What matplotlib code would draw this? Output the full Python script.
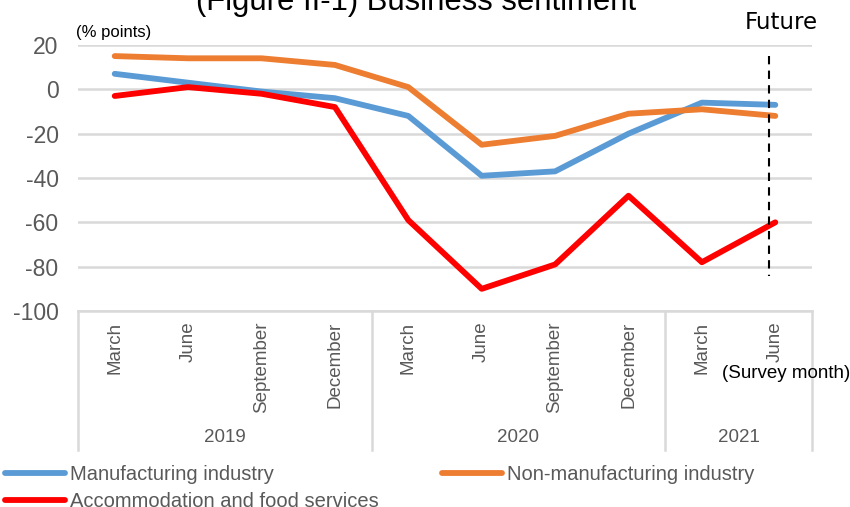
import matplotlib.pyplot as plt
import numpy as np

plt.rcParams['font.family'] = ['Liberation Sans', 'DejaVu Sans']

# DATA
months = ['March', 'June', 'September', 'December',
          'March', 'June', 'September', 'December',
          'March', 'June']
years = ['2019', '2020', '2021']
year_counts = [4, 4, 2]

manufacturing = [7, 3, -1, -4, -12, -39, -37, -20, -6, -7]
non_manufacturing = [15, 14, 14, 11, 1, -25, -21, -11, -9, -12]
accommodation = [-3, 1, -2, -8, -59, -90, -79, -48, -78, -60]

BLUE = '#5B9BD5'
ORANGE = '#ED7D31'
RED = '#FF0000'
GRID = '#D9D9D9'
TXT = '#595959'

W, H = 850, 507
fig = plt.figure(figsize=(W / 100, H / 100), dpi=100)
ax = fig.add_axes([78 / W, 1 - 311 / H, (812 - 78) / W, (311 - 45) / H])

x = np.arange(len(months))
l1, = ax.plot(x, manufacturing, color=BLUE, lw=4.2, solid_capstyle='round',
              label='Manufacturing industry')
l2, = ax.plot(x, non_manufacturing, color=ORANGE, lw=4.2, solid_capstyle='round',
              label='Non-manufacturing industry')
l3, = ax.plot(x, accommodation, color=RED, lw=4.2, solid_capstyle='round',
              label='Accommodation and food services')

# future marker
ax.plot([x[-1] - 0.09] * 2, [15, -84], color='black', lw=1.5, ls=(0, (4, 3)))
ax.text(x[-1] + 0.08, 27, 'Future', fontsize=16.5, ha='center', va='baseline',
        color='black', family='DejaVu Sans')

ax.set_xlim(-0.5, len(months) - 0.5)
ax.set_ylim(-100, 20)
ax.set_yticks(range(-100, 21, 20))
ax.set_yticklabels([str(v) for v in range(-100, 21, 20)], fontsize=16.5, color=TXT)
ax.tick_params(axis='y', length=0, pad=14)
ax.grid(axis='y', color=GRID, lw=1.8)
ax.set_axisbelow(True)
for s in ['top', 'right', 'left']:
    ax.spines[s].set_visible(False)
ax.spines['bottom'].set_color(GRID)
ax.spines['bottom'].set_linewidth(1.8)
ax.set_xticks([])

# category labels
for i, m in enumerate(months):
    ax.annotate(m, (i, 0), xycoords=('data', 'axes fraction'),
                xytext=(0, -7.5), textcoords='offset points',
                rotation=90, ha='center', va='top', fontsize=13.5, color=TXT)

# year groups with separators
edges = np.concatenate([[0], np.cumsum(year_counts)]) - 0.5
sep_depth = (450 - 311) / (311 - 45)
for e in edges:
    ax.plot([e, e], [0, -sep_depth], transform=ax.get_xaxis_transform(),
            color=GRID, lw=1.8, clip_on=False)
for yr, a, b in zip(years, edges[:-1], edges[1:]):
    ax.annotate(yr, ((a + b) / 2, 0), xycoords=('data', 'axes fraction'),
                xytext=(0, -(437 - 311) * 0.72), textcoords='offset points',
                ha='center', va='center', fontsize=13.5, color=TXT)

fig.text(722 / W, 1 - 374 / H, '(Survey month)', fontsize=13.5, color='black',
         ha='left', va='center')
fig.text(76 / W, 1 - 33 / H, '(% points)', fontsize=12, color='black',
         ha='left', va='center')

fig.text(416 / W, 1 - 10 / H, '(Figure II-1) Business sentiment', fontsize=22.3,
         ha='center', va='baseline', color='black')

fig.legend(handles=[l1, l3, l2], ncol=2, loc='upper left',
           bbox_to_anchor=(5 / W, 1 - 465 / H), frameon=False,
           fontsize=14.5, labelcolor=TXT, handlelength=3.0, handletextpad=0.25,
           columnspacing=3.1, labelspacing=0.4, borderaxespad=0, borderpad=0)

fig.savefig('out.png', dpi=100)
